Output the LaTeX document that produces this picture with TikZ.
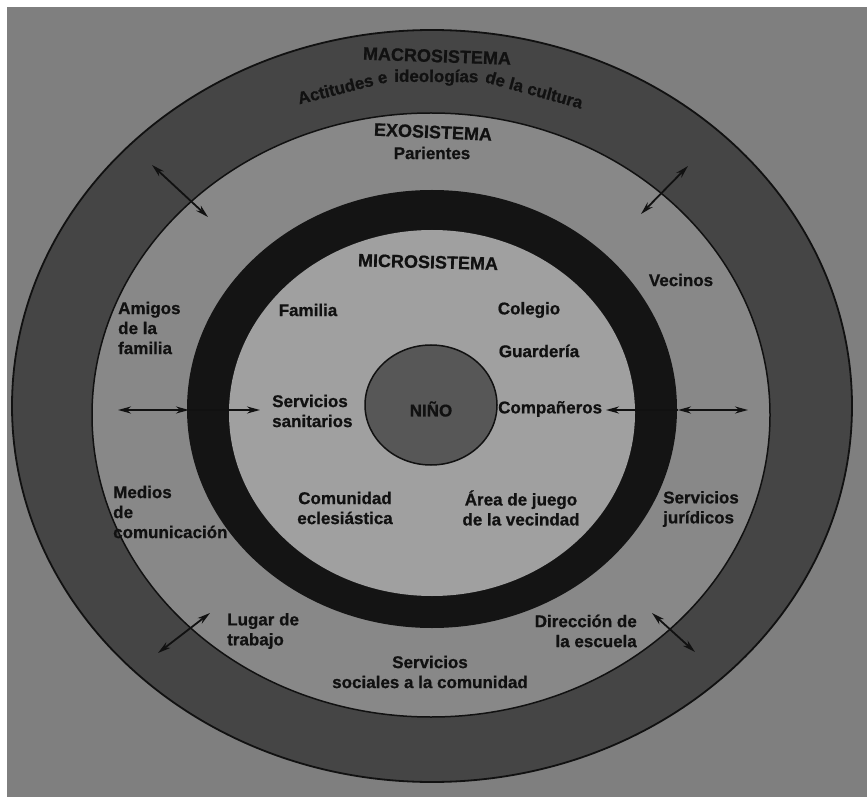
\documentclass[tikz,border=0pt]{standalone}
\usepackage{fontspec}
\setmainfont{Liberation Sans}[BoldFeatures={FakeBold=0.8}]
\usetikzlibrary{arrows.meta,calc}
\newcommand\bodyfont{\bfseries\fontsize{17}{20}\selectfont}
\newcommand\titlefont{\bfseries\fontsize{18}{21}\selectfont}
\definecolor{bgc}{HTML}{7F7F7F}
\definecolor{macroc}{HTML}{454545}
\definecolor{exoc}{HTML}{888888}
\definecolor{ringc}{HTML}{141414}
\definecolor{microc}{HTML}{A0A0A0}
\definecolor{ninoc}{HTML}{575757}
\definecolor{ink}{HTML}{111111}
\begin{document}
\begin{tikzpicture}[x=1pt,y=1pt,
  lbl/.style={font=\bodyfont, text=ink, inner sep=0pt, align=center},
  ttl/.style={font=\titlefont, text=ink, inner sep=0pt},
  arc word/.style={font=\bodyfont, text=ink, inner sep=0pt, anchor=base},
  dbl/.style={{Stealth[length=13pt,width=7pt]}-{Stealth[length=13pt,width=7pt]}, line width=1.8pt, draw=ink},
  sgl/.style={-{Stealth[length=13pt,width=7pt]}, line width=1.8pt, draw=ink}]
\useasboundingbox (0,0) rectangle (867,-799);
\fill[white] (0,0) rectangle (867,-799);
\fill[bgc] (7,-7) rectangle (867,-797);
% rings
\filldraw[fill=macroc, draw=ink, line width=1.8pt] (432,-406) ellipse [x radius=420, y radius=376];
\filldraw[fill=exoc, draw=ink, line width=1.5pt] (431,-415) ellipse [x radius=339, y radius=302];
\fill[ringc] (432,-409) ellipse [x radius=245, y radius=219];
\fill[microc] (432,-413) ellipse [x radius=203, y radius=183];
\filldraw[fill=ninoc, draw=ink, line width=1.5pt] (431,-405) ellipse [x radius=66, y radius=60];
% titles
\node[ttl, rotate=-2] (macro) at (437,-56) {MACROSISTEMA};
\coordinate (ac) at (434,-452);
\node[arc word, rotate=14.11] (w1) at ($(ac)+(104.11:370)$) {Actitudes e};
\node[arc word, rotate=-0.35] (w2) at ($(ac)+(89.65:370)$) {ideologías};
\node[arc word, rotate=-15.46] (w3) at ($(ac)+(74.54:370)$) {de la cultura};
\node[ttl, rotate=-2.5] (exo) at (433,-132) {EXOSISTEMA};
\node[lbl] (parientes) at (432,-153) {Parientes};
\node[ttl, rotate=-1.5] (micro) at (428,-262) {MICROSISTEMA};
% labels
\node[lbl, anchor=west, align=left] (amigos) at (118,-328) {Amigos\\de la\\familia};
\node[lbl] (familia) at (308,-310) {Familia};
\node[lbl] (colegio) at (529,-310) {Colegio};
\node[lbl] (vecinos) at (681,-280) {Vecinos};
\node[lbl] (guarderia) at (539,-351) {Guardería};
\node[lbl, anchor=west, align=left] (sanitarios) at (272,-411) {Servicios\\sanitarios};
\node[lbl] (nino) at (431,-409) {NIÑO};
\node[lbl, anchor=west] (companeros) at (498,-409) {Compañeros};
\node[lbl, anchor=west, align=left] (medios) at (113,-512) {Medios\\de\\comunicación};
\node[lbl] (comunidad) at (345,-508) {Comunidad\\eclesiástica};
\node[lbl] (area) at (521,-508) {Área de juego\\de la vecindad};
\node[lbl, anchor=west, align=left] (juridicos) at (663,-509) {Servicios\\jurídicos};
\node[lbl, anchor=west, align=left] (lugar) at (227,-631) {Lugar de\\trabajo};
\node[lbl, anchor=east, align=right] (direccion) at (637,-631) {Dirección de\\la escuela};
\node[lbl] (sociales) at (430,-672) {Servicios\\sociales a la comunidad};
% arrow end points
\coordinate (aL1) at (118,-410);
\coordinate (aL2) at (189,-410);
\coordinate (aL3) at (260,-410);
\coordinate (aR1) at (606,-410);
\coordinate (aR2) at (678,-410);
\coordinate (aR3) at (748,-410);
\coordinate (tl1) at (152,-165);
\coordinate (tl2) at (208,-217);
\coordinate (tr1) at (688,-166);
\coordinate (tr2) at (641,-214);
\coordinate (bl1) at (158,-653);
\coordinate (bl2) at (210,-613);
\coordinate (br1) at (652,-613);
\coordinate (br2) at (695,-652);
\draw[dbl] (aL1) -- (aL2);
\draw[sgl] (aL2) -- (aL3);
\draw[sgl] (aR2) -- (aR1);
\draw[dbl] (aR2) -- (aR3);
\draw[dbl] (tl1) -- (tl2);
\draw[dbl] (tr1) -- (tr2);
\draw[dbl] (bl1) -- (bl2);
\draw[dbl] (br1) -- (br2);
\end{tikzpicture}
\end{document}
